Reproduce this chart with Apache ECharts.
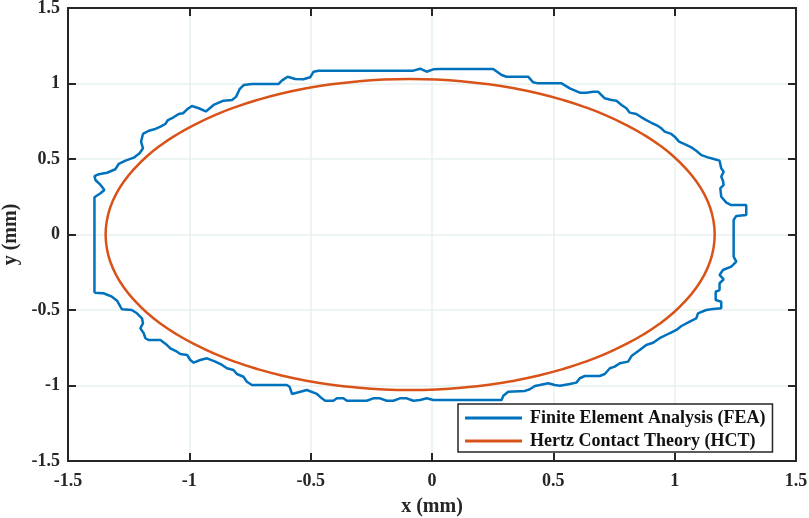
<!DOCTYPE html>
<html>
<head>
<meta charset="utf-8">
<script src="https://cdn.jsdelivr.net/npm/echarts@6/dist/echarts.min.js"></script>
<style>
html,body{margin:0;padding:0;background:#fff;}
#chart{width:809px;height:518px;}
</style>
</head>
<body>
<div id="chart"></div>
<script>
const seriesNames = ['Finite Element Analysis (FEA)', 'Hertz Contact Theory (HCT)'];
const axisTicks = [-1.5, -1, -0.5, 0, 0.5, 1, 1.5];
const xTitle = 'x (mm)';
const yTitle = 'y (mm)';

const feaPoints = [
[-1.391,-0.385],[-1.391,0.247],[-1.366,0.273],[-1.350,0.295],[-1.366,0.328],[-1.387,0.361],
[-1.391,0.387],[-1.373,0.399],[-1.339,0.409],[-1.305,0.432],[-1.291,0.467],[-1.263,0.489],
[-1.229,0.509],[-1.205,0.538],[-1.191,0.571],[-1.199,0.615],[-1.191,0.666],[-1.167,0.687],
[-1.140,0.699],[-1.119,0.714],[-1.099,0.732],[-1.088,0.758],[-1.065,0.776],[-1.044,0.798],
[-1.026,0.803],[-1.009,0.829],[-0.989,0.851],[-0.961,0.836],[-0.932,0.815],[-0.900,0.858],
[-0.859,0.886],[-0.824,0.891],[-0.807,0.913],[-0.793,0.962],[-0.776,0.990],[-0.742,0.997],
[-0.632,0.997],[-0.619,1.019],[-0.595,1.045],[-0.564,1.030],[-0.530,1.028],[-0.502,1.041],
[-0.488,1.078],[-0.468,1.085],[-0.077,1.085],[-0.049,1.098],[-0.022,1.078],[0.005,1.094],
[0.033,1.096],[0.252,1.096],[0.287,1.056],[0.307,1.045],[0.396,1.045],[0.417,1.008],
[0.437,1.001],[0.534,1.001],[0.568,0.968],[0.609,0.939],[0.636,0.939],[0.664,0.946],
[0.684,0.946],[0.712,0.902],[0.739,0.891],[0.760,0.886],[0.781,0.858],[0.801,0.836],
[0.815,0.807],[0.842,0.798],[0.863,0.776],[0.883,0.758],[0.904,0.740],[0.931,0.719],
[0.945,0.703],[0.959,0.681],[0.986,0.666],[1.000,0.648],[1.018,0.615],[1.041,0.599],
[1.069,0.577],[1.089,0.555],[1.110,0.526],[1.137,0.511],[1.165,0.498],[1.185,0.489],
[1.192,0.438],[1.202,0.416],[1.192,0.383],[1.199,0.356],[1.202,0.328],[1.188,0.306],
[1.192,0.250],[1.213,0.211],[1.233,0.195],[1.295,0.195],[1.295,0.129],[1.254,0.123],
[1.243,0.096],[1.243,-0.147],[1.254,-0.180],[1.233,-0.213],[1.199,-0.235],[1.185,-0.268],
[1.202,-0.297],[1.185,-0.323],[1.185,-0.368],[1.169,-0.379],[1.169,-0.434],[1.192,-0.445],
[1.192,-0.489],[1.158,-0.493],[1.130,-0.500],[1.096,-0.522],[1.089,-0.555],[1.062,-0.577],
[1.028,-0.606],[1.007,-0.632],[0.979,-0.654],[0.938,-0.687],[0.911,-0.717],[0.883,-0.732],
[0.856,-0.765],[0.822,-0.805],[0.808,-0.842],[0.774,-0.853],[0.753,-0.875],[0.733,-0.886],
[0.712,-0.924],[0.691,-0.937],[0.630,-0.937],[0.609,-0.952],[0.595,-0.981],[0.568,-0.990],
[0.527,-1.001],[0.506,-0.997],[0.479,-0.985],[0.444,-0.997],[0.424,-1.003],[0.403,-1.025],
[0.383,-1.036],[0.314,-1.041],[0.293,-1.070],[0.287,-1.096],[0.005,-1.096],[-0.022,-1.085],
[-0.049,-1.096],[-0.077,-1.101],[-0.104,-1.085],[-0.132,-1.085],[-0.159,-1.101],[-0.187,-1.101],
[-0.214,-1.085],[-0.242,-1.085],[-0.269,-1.101],[-0.351,-1.101],[-0.365,-1.085],[-0.392,-1.085],
[-0.406,-1.101],[-0.440,-1.101],[-0.454,-1.085],[-0.474,-1.056],[-0.516,-1.030],[-0.550,-1.045],
[-0.577,-1.056],[-0.587,-1.008],[-0.598,-0.997],[-0.742,-0.997],[-0.763,-0.975],[-0.777,-0.942],
[-0.804,-0.924],[-0.818,-0.897],[-0.845,-0.886],[-0.865,-0.864],[-0.893,-0.842],[-0.927,-0.820],
[-0.955,-0.831],[-0.982,-0.849],[-0.996,-0.831],[-1.009,-0.798],[-1.037,-0.791],[-1.051,-0.776],
[-1.078,-0.754],[-1.092,-0.732],[-1.119,-0.699],[-1.167,-0.699],[-1.181,-0.687],[-1.188,-0.654],
[-1.202,-0.621],[-1.191,-0.588],[-1.195,-0.555],[-1.216,-0.522],[-1.237,-0.500],[-1.278,-0.495],
[-1.284,-0.478],[-1.298,-0.438],[-1.319,-0.412],[-1.354,-0.389],[-1.391,-0.385]
];

const hctPoints = [
[1.160,-0.090],[1.165,0.000],[1.160,0.090],[1.146,0.179],[1.122,0.267],[1.089,0.352],[1.047,0.435],
[0.997,0.515],[0.938,0.591],[0.871,0.662],[0.797,0.728],[0.717,0.789],[0.630,0.844],[0.538,0.892],
[0.440,0.934],[0.339,0.968],[0.235,0.995],[0.128,1.014],[0.019,1.026],[-0.090,1.030],[-0.199,1.026],
[-0.308,1.014],[-0.415,0.995],[-0.519,0.968],[-0.620,0.934],[-0.718,0.892],[-0.810,0.844],
[-0.897,0.789],[-0.977,0.728],[-1.051,0.662],[-1.118,0.591],[-1.177,0.515],[-1.227,0.435],
[-1.269,0.352],[-1.302,0.267],[-1.326,0.179],[-1.340,0.090],[-1.345,0.000],[-1.340,-0.090],
[-1.326,-0.179],[-1.302,-0.267],[-1.269,-0.352],[-1.227,-0.435],[-1.177,-0.515],[-1.118,-0.591],
[-1.051,-0.662],[-0.977,-0.728],[-0.897,-0.789],[-0.810,-0.844],[-0.718,-0.892],[-0.620,-0.934],
[-0.519,-0.968],[-0.415,-0.995],[-0.308,-1.014],[-0.199,-1.026],[-0.090,-1.030],[0.019,-1.026],
[0.128,-1.014],[0.235,-0.995],[0.339,-0.968],[0.440,-0.934],[0.538,-0.892],[0.630,-0.844],
[0.717,-0.789],[0.797,-0.728],[0.871,-0.662],[0.938,-0.591],[0.997,-0.515],[1.047,-0.435],
[1.089,-0.352],[1.122,-0.267],[1.146,-0.179],[1.160,-0.090],[1.165,0.000],[1.160,0.090]
];

const FONT = "'Liberation Serif','Times New Roman',serif";
const AX = '#262626';
const GRIDC = '#e6f1f1';
const COLORS = ['#0072BD', '#D95319'];

function mainAxis(pos, isX) {
  return {
    type: 'value', position: pos,
    min: axisTicks[0], max: axisTicks[axisTicks.length - 1], interval: 0.5,
    axisLine: { show: true, onZero: false, lineStyle: { color: AX, width: 2 } },
    axisTick: { show: true, inside: true, length: 8, lineStyle: { color: AX, width: 2 } },
    axisLabel: { show: true, color: AX, fontFamily: FONT, fontWeight: 'bold', fontSize: 18,
                 margin: isX ? 11 : 8, hideOverlap: false },
    splitLine: { show: true, lineStyle: { color: GRIDC, width: 1.5 } },
    name: isX ? xTitle : yTitle,
    nameLocation: 'middle',
    nameGap: isX ? 36 : 44,
    nameTextStyle: { color: AX, fontFamily: FONT, fontWeight: 'bold', fontSize: 20 }
  };
}
function mirrorAxis(pos) {
  return {
    type: 'value', position: pos,
    min: axisTicks[0], max: axisTicks[axisTicks.length - 1], interval: 0.5,
    axisLine: { show: true, onZero: false, lineStyle: { color: AX, width: 2 } },
    axisTick: { show: true, inside: true, length: 8, lineStyle: { color: AX, width: 2 } },
    axisLabel: { show: false },
    splitLine: { show: false }
  };
}

const chart = echarts.init(document.getElementById('chart'), null, { renderer: 'canvas' });
chart.setOption({
  animation: false,
  backgroundColor: '#ffffff',
  grid: { left: 68, right: 13, top: 8, bottom: 57, containLabel: false, outerBoundsMode: 'none' },
  xAxis: [mainAxis('bottom', true), mirrorAxis('top')],
  yAxis: [mainAxis('left', false), mirrorAxis('right')],
  legend: {
    orient: 'vertical',
    left: 458, top: 404,
    padding: [5, 7, 2, 7],
    itemGap: 5,
    itemWidth: 57, itemHeight: 3,
    icon: 'rect',
    backgroundColor: '#ffffff',
    borderColor: AX, borderWidth: 1.5,
    textStyle: { color: '#111', fontFamily: FONT, fontWeight: 'bold', fontSize: 18, lineHeight: 18, padding: [0, 0, 0, 3] },
    data: seriesNames
  },
  series: [
    {
      name: seriesNames[0], type: 'line', data: feaPoints,
      xAxisIndex: 0, yAxisIndex: 0,
      symbol: 'none', showSymbol: false,
      lineStyle: { color: COLORS[0], width: 2.5 }, itemStyle: { color: COLORS[0] },
      z: 3
    },
    {
      name: seriesNames[1], type: 'line', data: hctPoints, smooth: true,
      xAxisIndex: 0, yAxisIndex: 0,
      symbol: 'none', showSymbol: false,
      lineStyle: { color: COLORS[1], width: 2.5 }, itemStyle: { color: COLORS[1] },
      z: 4
    }
  ]
});
</script>
</body>
</html>
